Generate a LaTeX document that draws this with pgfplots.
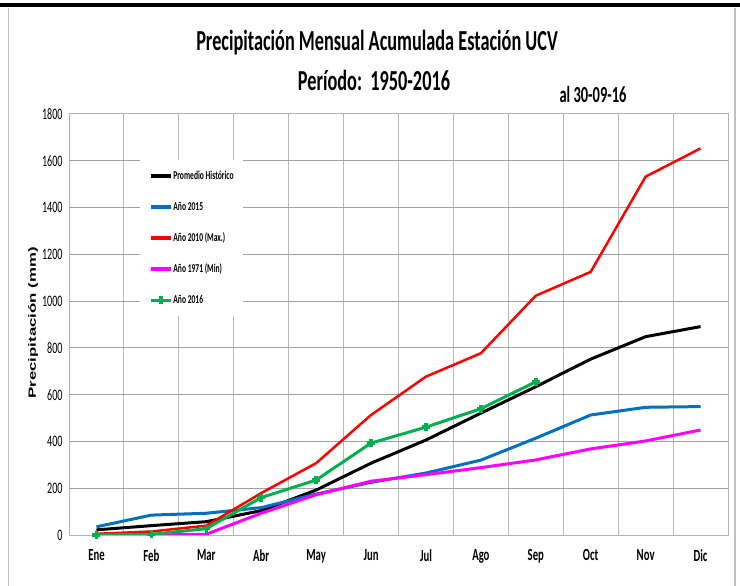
\documentclass[border=0pt]{standalone}
\usepackage{pgfplots}
\pgfplotsset{compat=1.18}
\usepackage{pgfplotstable}
\usepackage{fontspec}
\setmainfont{Carlito}[FakeStretch=0.63]
\newfontfamily\ylabfont{Liberation Sans}[FakeStretch=1.6]

\definecolor{cblue}{RGB}{0,112,192}
\definecolor{cred}{RGB}{255,0,0}
\definecolor{cmag}{RGB}{255,0,255}
\definecolor{cgreen}{RGB}{0,176,80}

% accumulated monthly precipitation (mm), month index 0 = Ene
\pgfplotstableread{
m prom a2015 a2010 a1971
0  22  35    5   0
1  40  85   15   0
2  57  93   40   3
3 104 117  179  93
4 192 175  307 172
5 307 225  513 230
6 406 265  677 258
7 521 320  777 288
8 634 414 1023 321
9 752 513 1125 368
10 848 546 1532 402
11 891 549 1653 449
}\datos

\pgfplotstableread{
m a2016
0   0
1   3
2  27
3 160
4 235
5 393
6 461
7 540
8 655
}\datosb

\begin{document}
\begin{tikzpicture}
\path[use as bounding box] (0bp,0bp) rectangle (740bp,586bp);
\draw[gray!50, line width=1.3bp] (8.5bp,-2bp) -- (8.5bp,578bp) (735bp,578bp) -- (735bp,-2bp);
\draw[black, line width=4bp] (0bp,581bp) -- (740bp,581bp);

\node[anchor=base, font=\fontsize{29bp}{29bp}\selectfont\bfseries] at (377bp,535bp) {Precipitación Mensual Acumulada Estación UCV};
\node[anchor=base, font=\fontsize{29bp}{29bp}\selectfont\bfseries] at (374bp,495bp) {Período:\ \ 1950-2016};
\node[anchor=base, font=\fontsize{23bp}{23bp}\selectfont\bfseries] at (593bp,483bp) {al 30-09-16};

\begin{axis}[
  at={(69bp,51bp)}, anchor=south west,
  scale only axis, width=659bp, height=421bp,
  xmin=-0.5, xmax=11.5, ymin=0, ymax=1800,
  xtick={0,...,11},
  xticklabels={Ene,Feb,Mar,Abr,May,Jun,Jul,Ago,Sep,Oct,Nov,Dic},
  minor xtick={-0.5,0.5,...,11.5},
  ytick={0,200,...,1800},
  major tick length=0, minor tick length=0,
  xminorgrids, ymajorgrids,
  minor grid style={gray!55, line width=1bp},
  major grid style={gray!75, line width=1bp},
  axis line style={gray!60, line width=1bp},
  xticklabel style={font=\fontsize{17bp}{17bp}\selectfont\bfseries, yshift=-11bp},
  yticklabel style={font=\fontsize{16bp}{16bp}\selectfont, xshift=-3bp},
  /pgf/number format/assume math mode=true,
  /pgf/number format/1000 sep={},
  ylabel={\ylabfont\bfseries Precipitación (mm)},
  ylabel style={at={(axis description cs:-0.0546,0.504)}, anchor=center, font=\fontsize{10.5bp}{10.5bp}\selectfont},
  legend cell align=left,
  legend style={at={(rel axis cs:0.108,0.891)}, anchor=north west, draw=none, fill=white,
    font=\fontsize{12bp}{12bp}\selectfont\bfseries, row sep=17bp, inner xsep=9bp, inner ysep=9bp,
    nodes={inner xsep=0.5bp}},
  legend image code/.code={\draw[mark repeat=2, mark phase=2, #1, line width=3.5bp] plot coordinates {(0bp,0bp) (10bp,0bp) (20bp,0bp)};},
  every axis plot/.append style={line width=3bp, line join=round},
]
\addplot[black, no marks] table[x=m, y=prom] {\datos};
\addlegendentry{Promedio Histórico}
\addplot[cblue, no marks] table[x=m, y=a2015] {\datos};
\addlegendentry{Año 2015}
\addplot[cred, no marks, line width=2.5bp] table[x=m, y=a2010] {\datos};
\addlegendentry{Año 2010 (Max.)}
\addplot[cmag, no marks] table[x=m, y=a1971] {\datos};
\addlegendentry{Año 1971 (Min)}
\addplot[cgreen, mark=+, mark size=4bp, mark options={line width=3.5bp}] table[x=m, y=a2016] {\datosb};
\addlegendentry{Año 2016}
\end{axis}
\end{tikzpicture}
\end{document}
